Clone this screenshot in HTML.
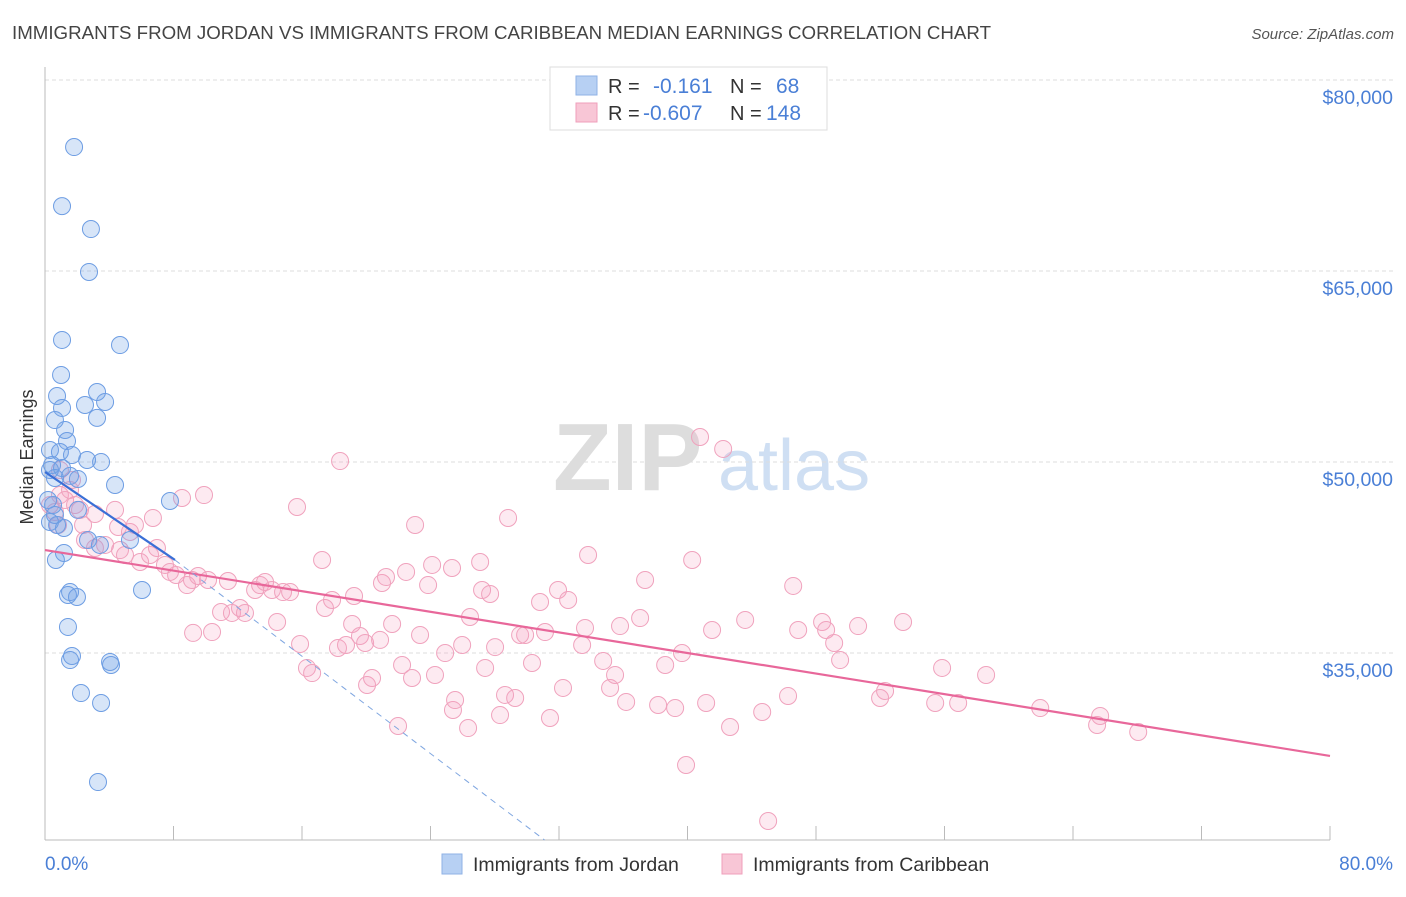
<!DOCTYPE html>
<html><head><meta charset="utf-8"><style>
body{margin:0;background:#fff;font-family:"Liberation Sans",sans-serif}
svg text{font-family:"Liberation Sans",sans-serif}
</style></head><body>
<svg id="chart" width="1406" height="892" viewBox="0 0 1406 892" xmlns="http://www.w3.org/2000/svg">
<text x="12" y="39" font-size="18" fill="#444" textLength="979" lengthAdjust="spacingAndGlyphs">IMMIGRANTS FROM JORDAN VS IMMIGRANTS FROM CARIBBEAN MEDIAN EARNINGS CORRELATION CHART</text>
<text x="1394" y="39" font-size="15" fill="#555" font-style="italic" text-anchor="end">Source: ZipAtlas.com</text>
<g>
<text x="553" y="490" font-size="96" fill="#ddd" font-family="Liberation Serif" font-weight="bold">ZIP</text>
<text x="718" y="490" font-size="72" fill="#cfdff3">atlas</text>
</g>
<g id="grid"></g>
<g id="axes"></g>
<g id="pink"></g>
<g id="blue"></g>
<g id="trends"></g>
<text transform="translate(33,457) rotate(-90)" font-size="18" fill="#333" text-anchor="middle">Median Earnings</text>
<text x="45" y="870" font-size="19" fill="#4a7fd6">0.0%</text>
<text x="1393" y="870" font-size="19" fill="#4a7fd6" text-anchor="end">80.0%</text>
<g>
<rect x="550" y="67" width="277" height="63" fill="#fff" stroke="#ddd"/>
<rect x="576" y="76" width="21" height="19" fill="#b7d0f3" stroke="#8fb2e6"/>
<rect x="576" y="103" width="21" height="19" fill="#f8c6d6" stroke="#ef9fbb"/>
<text x="608" y="93" font-size="20" fill="#333">R =</text>
<text x="653" y="93" font-size="21" fill="#4a7fd6">-0.161</text>
<text x="730" y="93" font-size="20" fill="#333">N =</text>
<text x="776" y="93" font-size="21" fill="#4a7fd6">68</text>
<text x="608" y="120" font-size="20" fill="#333">R =</text>
<text x="643" y="120" font-size="21" fill="#4a7fd6">-0.607</text>
<text x="730" y="120" font-size="20" fill="#333">N =</text>
<text x="766" y="120" font-size="21" fill="#4a7fd6">148</text>
</g>
<g>
<rect x="442" y="854" width="20" height="20" fill="#b7d0f3" stroke="#8fb2e6"/>
<text x="473" y="871" font-size="19.5" fill="#333">Immigrants from Jordan</text>
<rect x="722" y="854" width="20" height="20" fill="#f8c6d6" stroke="#ef9fbb"/>
<text x="753" y="871" font-size="19.5" fill="#333">Immigrants from Caribbean</text>
</g>
</svg>
<script>
const yTicks=[80000,65000,50000,35000];
const yTickLabels=["$80,000","$65,000","$50,000","$35,000"];
const xTicks=[0,8,16,24,32,40,48,56,64,72,80];
const jordanX=[1.81,1.06,2.86,2.74,1.06,4.67,1.0,3.24,0.75,2.49,3.74,3.24,1.06,0.62,1.25,1.37,0.31,0.93,1.68,2.62,3.49,0.44,1.06,1.56,2.05,0.62,4.36,7.78,2.05,0.5,0.31,0.75,1.18,2.68,3.42,5.29,1.18,0.68,1.56,1.43,1.99,6.04,1.43,1.68,1.56,4.05,4.11,2.24,3.49,3.30,0.31,0.19,0.62];
const jordanY=[76.07,71.43,69.63,66.26,60.92,60.52,58.17,56.83,56.52,55.81,56.05,54.80,55.58,54.63,53.85,52.98,52.28,52.12,51.88,51.49,51.33,51.10,50.86,50.24,50.0,50.08,49.53,48.27,47.57,47.96,46.62,46.39,46.15,45.21,44.82,45.21,44.19,43.64,41.12,40.89,40.73,41.28,38.38,36.10,35.78,35.63,35.39,33.19,32.41,26.20,50.71,48.35,47.17];
const caribX=[.31,.62,.93,1.25,1.56,1.87,2.18,.81,2.37,2.49,3.11,3.74,4.36,4.67,4.98,5.29,5.6,5.92,6.54,6.72,6.97,7.47,7.78,8.16,8.53,8.84,9.15,9.53,9.9,10.15,9.22,10.4,10.96,11.39,11.64,12.14,12.45,13.08,13.39,13.7,14.13,14.45,14.82,15.26,15.69,15.88,16.31,16.63,17.25,17.43,17.87,18.24,18.74,18.37,19.12,19.24,19.61,19.93,20.05,20.36,20.86,20.98,21.23,21.61,21.98,22.23,22.48,22.85,23.04,23.35,23.85,24.1,24.28,24.91,25.34,25.4,25.53,25.97,26.34,26.46,27.09,27.21,27.4,27.71,28.02,28.33,28.64,28.83,29.27,29.58,29.89,30.32,30.82,31.13,31.44,31.94,32.25,32.57,33.44,33.62,33.81,34.75,35.18,35.49,35.8,36.18,37.05,37.36,38.17,38.61,39.23,39.66,40.29,40.78,41.16,41.53,42.22,42.65,43.59,44.65,45.02,46.26,46.58,46.89,48.38,48.63,49.13,49.5,50.62,51.99,52.3,53.42,55.42,55.85,56.85,58.59,61.96,65.5,65.69,68.06,39.91,.93,1.68,3.11,4.55];
const caribY=[47.96,47.41,48.74,48.35,49.14,47.96,47.57,46.39,46.39,45.21,44.58,44.82,47.57,44.42,44.03,45.84,46.39,43.48,44.03,46.94,44.58,43.25,42.70,42.46,48.51,41.67,42.07,42.38,48.74,42.07,37.91,37.98,39.55,41.99,39.48,39.87,39.48,41.28,41.67,41.91,41.28,38.77,41.12,41.12,47.80,37.04,35.16,34.76,43.64,39.87,40.50,36.73,36.96,51.41,38.61,40.81,37.67,37.12,33.82,34.37,37.36,41.83,42.30,38.61,30.60,35.39,42.70,34.37,46.39,37.75,41.67,43.25,34.61,36.33,43.01,31.86,32.64,36.96,30.44,39.16,43.48,41.28,35.16,40.97,36.80,31.46,33.04,46.94,32.80,37.75,37.75,35.55,40.34,37.98,31.23,41.28,33.59,40.50,36.96,38.30,44.03,35.71,33.59,34.61,38.45,32.49,39.08,42.07,32.25,35.39,32.01,36.33,43.64,53.30,32.41,38.14,52.36,30.52,38.93,31.70,23.14,32.96,41.60,38.14,38.77,38.14,37.12,35.78,38.45,32.80,33.35,38.77,32.41,35.16,32.41,34.61,32.01,30.68,31.39,30.13,27.54,50.71,49.92,47.25,46.23];
const jordanTrend=[[0,50.55],[8.09,43.64]];
const jordanTrendExt=[[8.09,43.64],[31.1,21.65]];
const caribTrend=[[0,44.42],[80,28.25]];

const NS="http://www.w3.org/2000/svg";
const xs=p=>45+p/80*1285;
const ys=k=>97+(80-k)*12.733;
function mk(tag,attrs,parent){const e=document.createElementNS(NS,tag);for(const k in attrs)e.setAttribute(k,attrs[k]);parent.appendChild(e);return e;}
const grid=document.getElementById('grid'),axes=document.getElementById('axes');
yTicks.forEach((t,i)=>{
  const y=ys(t/1000)-17;
  const l=mk('line',{x1:45,x2:1393,y1:y,y2:y,stroke:'#ddd','stroke-dasharray':'4,3'},grid);
  
  
  const tx=mk('text',{x:1393,y:y+24,'font-size':19.5,fill:'#4a7fd6','text-anchor':'end'},axes);
  tx.textContent=yTickLabels[i];
  
  
});
const ya=mk('line',{x1:45,x2:45,y1:67,y2:840,stroke:'#bbb'},axes);


const xa=mk('line',{x1:45,x2:1330,y1:840,y2:840,stroke:'#bbb'},axes);


xTicks.forEach(t=>{
  const l=mk('line',{x1:xs(t),x2:xs(t),y1:826,y2:840,stroke:'#bbb'},axes);
  
  
});
function pts(X,Y,g,fill,stroke,name){
  X.forEach((x,i)=>{
    const c=mk('circle',{cx:xs(x),cy:ys(Y[i]),r:8.5,fill:fill,stroke:stroke,'stroke-width':1},g);
    
    
  });
}
pts(caribX,caribY,document.getElementById('pink'),'rgba(244,160,190,0.22)','#f0a2bd','caribbean-point');
pts(jordanX,jordanY,document.getElementById('blue'),'rgba(110,160,230,0.28)','#6d9de3','jordan-point');
const tg=document.getElementById('trends');
function tl(d,color,w,dash,name){
  const a={x1:xs(d[0][0]),y1:ys(d[0][1]),x2:xs(d[1][0]),y2:ys(d[1][1]),stroke:color,'stroke-width':w};
  if(dash)a['stroke-dasharray']=dash;
  const l=mk('line',a,tg);
  
  
}
tl(caribTrend,'#e8679a',2.2,null,'caribbean-trend-line');
tl(jordanTrendExt,'#7fa6e0',1,'6,5','jordan-trend-extension');
tl(jordanTrend,'#3a6fd6',2.2,null,'jordan-trend-line');
</script>
</body></html>
